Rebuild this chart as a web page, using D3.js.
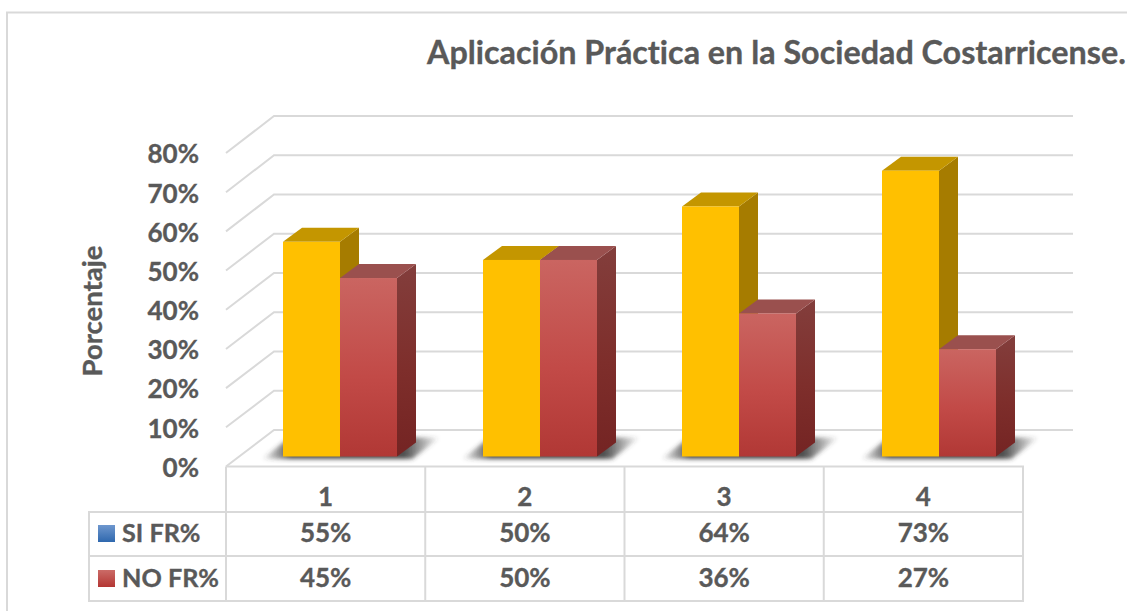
<!DOCTYPE html>
<html>
<head>
<meta charset="utf-8">
<script src="https://cdn.jsdelivr.net/npm/d3@7"></script>
<style>
html,body{margin:0;padding:0;background:#fff;overflow:hidden}
text{font-family:Lato,"Open Sans",sans-serif;font-weight:700;fill:#595959;stroke:#595959;stroke-width:.35px;font-variant-ligatures:none}
</style>
</head>
<body>
<svg id="c" width="1127" height="611"></svg>
<script>
const categories = ["1","2","3","4"];
const siValues = [54.6,50,63.6,72.7];
const noValues = [45.4,50,36.4,27.3];
const tickValues = [0,10,20,30,40,50,60,70,80];
const seriesNames = ["SI FR%","NO FR%"];
const titleText = "Aplicación Práctica en la Sociedad Costarricense.";
const axisTitle = "Porcentaje";

const svg = d3.select("#c");
const defs = svg.append("defs");
const pct = d => d3.format(".0f")(d) + "%";

function grad(id, stops){
  const g = defs.append("linearGradient").attr("id",id).attr("x1",0).attr("y1",0).attr("x2",0).attr("y2",1);
  stops.forEach(s=>g.append("stop").attr("offset",s[0]).attr("stop-color",s[1]));
}
grad("redFront",[[0,"#CA6561"],[0.55,"#C24A47"],[1,"#B13835"]]);
grad("redSide",[[0,"#833E3C"],[0.55,"#7E2E2B"],[1,"#742423"]]);
grad("blueKey",[[0,"#6E97CE"],[1,"#2F68AE"]]);
grad("redKey",[[0,"#CB6B67"],[1,"#B43633"]]);
const sg = defs.append("linearGradient").attr("id","shadowFill").attr("x1",0).attr("y1",0).attr("x2",1).attr("y2",0);
[[0,0],[0.16,0.9],[0.8,0.9],[1,0]].forEach(s=>sg.append("stop").attr("offset",s[0]).attr("stop-color","#3C3C3C").attr("stop-opacity",s[1]));
defs.append("filter").attr("id","blur").attr("x","-20%").attr("y","-80%").attr("width","140%").attr("height","260%")
  .append("feGaussianBlur").attr("stdDeviation",2.2);

// scales
const yFront = d3.scaleLinear().domain([0,80]).range([466.5,153]);
const yBack  = d3.scaleLinear().domain([0,80]).range([430,116]);
const yBar   = d3.scaleLinear().domain([0,80]).range([456.5,142]);
const xCol   = d3.scaleBand().domain(categories).range([226,1023]);
const xBar   = d3.scaleBand().domain(categories).range([240,1038.67]);
const barW = 57, depthX = 19, depthY = 14;
const gridCol = "#D9D9D9";

// outer frame
svg.append("path").attr("d","M7,611V12.5H1127").attr("fill","none").attr("stroke","#D9D9D9").attr("stroke-width",2);

// title
svg.append("text").attr("x",427).attr("y",64).attr("font-size",32.3).text(titleText);

// gridlines
const grid = svg.append("g").attr("fill","none").attr("stroke",gridCol).attr("stroke-width",2);
grid.selectAll("path").data(tickValues).join("path")
  .attr("d",d=>`M226,${yFront(d)}L274,${yBack(d)}H1073`);

// y axis
const axis = d3.axisLeft(yFront).tickValues(tickValues).tickFormat(d=>d+"%").tickSize(0).tickPadding(28);
const ag = svg.append("g").attr("transform","translate(227,1.5)").call(axis);
ag.select(".domain").remove();
ag.selectAll("text").attr("font-size",26).attr("font-family",null).style("fill","#595959");

// axis title
svg.append("text").attr("transform","translate(102,311) rotate(-90)")
  .attr("text-anchor","middle").attr("font-size",27.5).text(axisTitle);

// bars
const bars = svg.append("g");
const barCentre = c => Math.round(xBar(c)+xBar.bandwidth()/2);
categories.forEach((c)=>{
  const cx = barCentre(c);
  const base = yBar(0);
  bars.append("path").attr("filter","url(#blur)").attr("fill","url(#shadowFill)")
    .attr("d",`M${cx-78},${base+2.5}L${cx-50},${base-19}H${cx+100}L${cx+72},${base+2.5}Z`);
});
function box(x, v, front, top, side){
  const y = yBar(v), base = yBar(0);
  bars.append("path").attr("fill",side)
    .attr("d",`M${x+barW},${y}l${depthX},${-depthY}V${base-depthY}L${x+barW},${base}Z`);
  bars.append("path").attr("fill",top)
    .attr("d",`M${x},${y}l${depthX},${-depthY}h${barW}l${-depthX},${depthY}Z`);
  bars.append("rect").attr("x",x).attr("y",y).attr("width",barW).attr("height",base-y).attr("fill",front);
}
categories.forEach((c,i)=>{
  const cx = barCentre(c);
  box(cx-barW, siValues[i], "#FFC000", "#C49600", "#A67C00");
  box(cx, noValues[i], "url(#redFront)", "#9A504E", "url(#redSide)");
});

// data table
const rowY = [466.5,512,556,601];
const t = svg.append("g");
const tl = t.append("g").attr("stroke",gridCol).attr("stroke-width",2).attr("fill","none");
categories.concat(["end"]).forEach((c,i)=>{
  const x = i<categories.length ? xCol(c) : xCol.range()[1];
  tl.append("line").attr("x1",x).attr("x2",x).attr("y1",rowY[0]).attr("y2",rowY[3]);
});
tl.append("line").attr("x1",89).attr("x2",89).attr("y1",rowY[1]).attr("y2",rowY[3]);
[1,2,3].forEach(r=>tl.append("line").attr("x1",88).attr("x2",1024).attr("y1",rowY[r]).attr("y2",rowY[r]));
tl.append("line").attr("x1",226).attr("x2",1024).attr("y1",rowY[0]).attr("y2",rowY[0]);

const cellSize = 26;
categories.forEach((c,i)=>{
  const x = xCol(c)+xCol.bandwidth()/2;
  t.append("text").attr("x",x).attr("y",506).attr("text-anchor","middle").attr("font-size",cellSize).text(c);
  t.append("text").attr("x",x).attr("y",542).attr("text-anchor","middle").attr("font-size",cellSize).text(pct(siValues[i]));
  t.append("text").attr("x",x).attr("y",587).attr("text-anchor","middle").attr("font-size",cellSize).text(pct(noValues[i]));
});
[["url(#blueKey)",525,542],["url(#redKey)",570,587]].forEach((k,i)=>{
  t.append("rect").attr("x",98).attr("y",k[1]).attr("width",17).attr("height",17).attr("fill",k[0]);
  t.append("text").attr("x",122).attr("y",k[2]).attr("font-size",25.2).text(seriesNames[i]);
});
</script>
</body>
</html>
